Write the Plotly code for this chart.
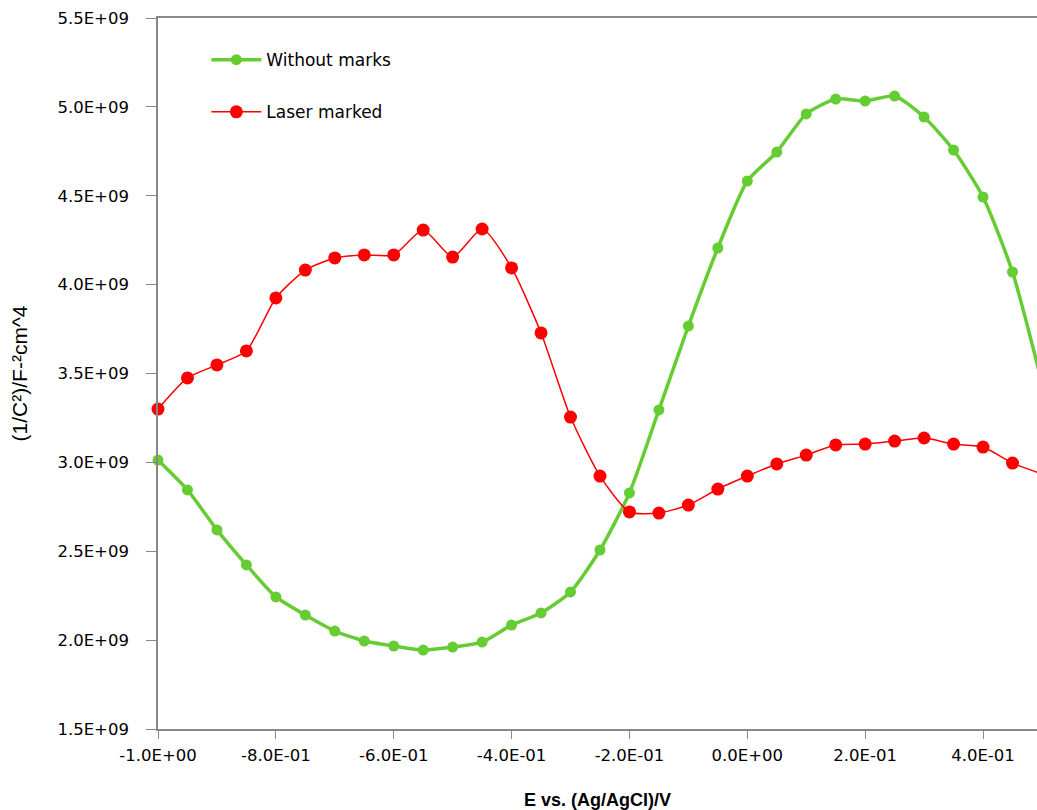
import plotly.graph_objects as go

potential = [-1.0, -0.95, -0.90, -0.85, -0.80, -0.75, -0.70, -0.65, -0.60, -0.55,
             -0.50, -0.45, -0.40, -0.35, -0.30, -0.25, -0.20, -0.15, -0.10, -0.05,
             0.0, 0.05, 0.10, 0.15, 0.20, 0.25, 0.30, 0.35, 0.40, 0.45, 0.50]

without_marks = [3.013e9, 2.845e9, 2.620e9, 2.423e9, 2.243e9, 2.141e9, 2.051e9, 1.995e9,
                 1.967e9, 1.944e9, 1.961e9, 1.989e9, 2.085e9, 2.153e9, 2.271e9, 2.507e9,
                 2.828e9, 3.295e9, 3.767e9, 4.206e9, 4.583e9, 4.746e9, 4.960e9, 5.044e9,
                 5.033e9, 5.061e9, 4.943e9, 4.757e9, 4.493e9, 4.071e9, 3.447e9]

laser_marked = [3.300e9, 3.475e9, 3.548e9, 3.627e9, 3.925e9, 4.082e9, 4.150e9, 4.167e9,
                4.167e9, 4.307e9, 4.155e9, 4.313e9, 4.094e9, 3.728e9, 3.255e9, 2.923e9,
                2.721e9, 2.715e9, 2.760e9, 2.850e9, 2.923e9, 2.991e9, 3.041e9, 3.098e9,
                3.103e9, 3.120e9, 3.137e9, 3.103e9, 3.086e9, 2.996e9, 2.935e9]

x_tick_vals = [-1.0, -0.8, -0.6, -0.4, -0.2, 0.0, 0.2, 0.4]
x_tick_text = ["-1.0E+00", "-8.0E-01", "-6.0E-01", "-4.0E-01", "-2.0E-01", "0.0E+00", "2.0E-01", "4.0E-01"]
y_tick_vals = [1.5e9, 2.0e9, 2.5e9, 3.0e9, 3.5e9, 4.0e9, 4.5e9, 5.0e9, 5.5e9]
y_tick_text = ["1.5E+09", "2.0E+09", "2.5E+09", "3.0E+09", "3.5E+09", "4.0E+09", "4.5E+09", "5.0E+09", "5.5E+09"]

GREEN = "#66CC33"
RED = "#FF0000"

fig = go.Figure()
fig.add_trace(go.Scatter(
    x=potential, y=without_marks, name="Without marks", mode="lines+markers",
    line=dict(color=GREEN, width=3.5, shape="spline", smoothing=0.6),
    marker=dict(color=GREEN, size=11), legendgroup="a", cliponaxis=False))
fig.add_trace(go.Scatter(
    x=potential, y=laser_marked, name="Laser marked", mode="lines+markers",
    line=dict(color=RED, width=1.5, shape="spline", smoothing=0.6),
    marker=dict(color=RED, size=13), legendgroup="b", cliponaxis=False))

tick_font = dict(family="DejaVu Sans", size=16.5, color="black")

fig.update_layout(
    width=1037, height=810,
    margin=dict(l=158, r=0, t=18, b=81),
    paper_bgcolor="white", plot_bgcolor="white",
    showlegend=True,
    legend=dict(x=0.055, y=0.966, xanchor="left", yanchor="top",
                font=dict(family="DejaVu Sans", size=17, color="black"),
                bgcolor="rgba(0,0,0,0)", tracegroupgap=27, traceorder="grouped",
                itemwidth=50),
    xaxis=dict(range=[-1.0, 0.4916], tickmode="array", tickvals=x_tick_vals,
               ticktext=x_tick_text, tickfont=tick_font, showgrid=False,
               zeroline=False, showline=True, linecolor="#888888", linewidth=1.5,
               mirror=True, ticks="outside", ticklen=8, tickcolor="#888888",
               ticklabelstandoff=2, automargin=False,
               title=dict(text="<b>E vs. (Ag/AgCl)/V</b>",
                          font=dict(family="Liberation Sans", size=18, color="black"),
                          standoff=35)),
    yaxis=dict(range=[1.5e9, 5.5e9], tickmode="array", tickvals=y_tick_vals,
               ticktext=y_tick_text, tickfont=tick_font, showgrid=False,
               zeroline=False, showline=True, linecolor="#888888", linewidth=1.5,
               ticks="outside", ticklen=10, tickcolor="#888888",
               ticklabelstandoff=14, automargin=False,
               title=dict(text="(1/C²)/F-²cm^4",
                          font=dict(family="Liberation Sans", size=21, color="black"),
                          standoff=24)),
)

fig.write_html("out.html")
